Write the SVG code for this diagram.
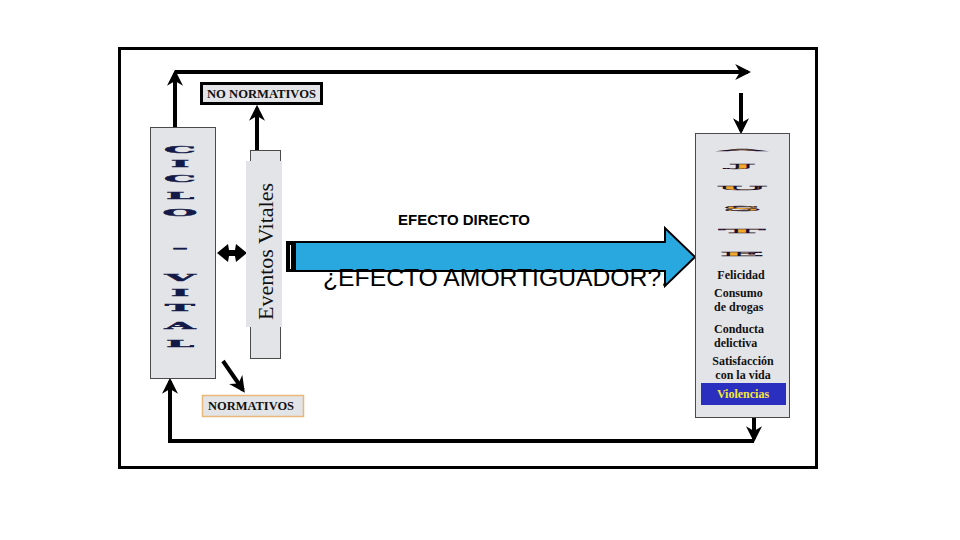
<svg xmlns="http://www.w3.org/2000/svg" width="960" height="540" viewBox="0 0 960 540">
<defs>
<style>
.box{fill:#e3e4e7;stroke:#4a4a4a;stroke-width:1}
.ln{fill:none;stroke:#000;stroke-width:4}
.tl{font-family:"Liberation Serif",serif;font-weight:bold;font-size:12px;fill:#111}
.cv{font-family:"DejaVu Serif",serif;font-weight:bold;font-size:20px;fill:#141a48;stroke:#141a48;stroke-width:0.8;text-anchor:middle}
.aj{font-family:"DejaVu Serif",serif;font-weight:bold;font-size:22px;fill:#f2a62a;stroke:#1b1030;stroke-width:1.2;text-anchor:middle}
</style>
<marker id="ah" viewBox="0 0 10 10" refX="8" refY="5" markerWidth="4" markerHeight="4" orient="auto" markerUnits="strokeWidth">
<path d="M0,0 L10,5 L0,10 L3,5 Z" fill="#000"/>
</marker>
</defs>
<rect width="960" height="540" fill="#fff"/>
<rect x="119.5" y="48.5" width="697" height="419" fill="none" stroke="#000" stroke-width="3"/>

<g id="connectors">
<path class="ln" d="M175,127 L175,73" marker-end="url(#ah)"/>
<path class="ln" d="M175,72 L748,72" marker-end="url(#ah)"/>
<path class="ln" d="M741,93 L741,131" marker-end="url(#ah)"/>
<path class="ln" d="M257,150 L257,108" marker-end="url(#ah)"/>
<path class="ln" d="M223,361 L243,390" marker-end="url(#ah)"/>
<path class="ln" d="M754,418 L754,439" marker-end="url(#ah)"/>
<path class="ln" d="M754,441 L170,441 L170,381" marker-end="url(#ah)"/>
<path d="M217,253 L228,244 L229,250 L235,250 L236,244 L247,253 L236,262 L235,256 L229,256 L228,262 Z" fill="#000"/>
</g>

<g id="ciclo-vital">
<rect class="box" x="150.5" y="127.5" width="65" height="251"/>
<g transform="translate(180,0)">
<text class="cv" transform="translate(0,153) scale(2.0,0.45)">C</text>
<text class="cv" transform="translate(0,167) scale(2.0,0.45)">I</text>
<text class="cv" transform="translate(0,182) scale(2.0,0.45)">C</text>
<text class="cv" transform="translate(0,199) scale(2.0,0.45)">L</text>
<text class="cv" transform="translate(0,216) scale(2.0,0.45)">O</text>
<text class="cv" transform="translate(0,251) scale(2.0,0.45)">-</text>
<text class="cv" transform="translate(0,281) scale(2.0,0.45)">V</text>
<text class="cv" transform="translate(0,296) scale(2.0,0.45)">I</text>
<text class="cv" transform="translate(0,311) scale(2.0,0.45)">T</text>
<text class="cv" transform="translate(0,329) scale(2.0,0.45)">A</text>
<text class="cv" transform="translate(0,347) scale(2.0,0.45)">L</text>
</g>
</g>

<g id="eventos-vitales">
<rect class="box" x="250.5" y="150.5" width="30" height="208"/>
<rect x="246" y="161" width="36" height="166" fill="#e3e4e7"/>
<text transform="translate(273,320) rotate(-90)" font-family="Liberation Serif,serif" font-size="22" fill="#111">Eventos Vitales</text>
</g>

<g id="no-normativos">
<rect x="201.5" y="83.5" width="120" height="20" fill="#e3e4e7" stroke="#000" stroke-width="3"/>
<text class="tl" x="207" y="98" textLength="109" lengthAdjust="spacingAndGlyphs">NO NORMATIVOS</text>
</g>

<g id="normativos">
<rect x="202.5" y="395.5" width="101" height="21" fill="#e3e4e7" stroke="#e8b87a" stroke-width="1.5"/>
<text class="tl" x="208" y="410" textLength="86" lengthAdjust="spacingAndGlyphs">NORMATIVOS</text>
</g>

<g id="efecto-arrow">
<path d="M287,242 L665,242 L665,228 L695,257 L665,286 L665,271 L287,271 Z" fill="#29a8e0" stroke="#000" stroke-width="2"/>
<rect x="286" y="242" width="10" height="30" fill="#000"/>
<line x1="290.5" y1="245" x2="290.5" y2="269" stroke="#fff" stroke-width="1"/>
<text x="464" y="225" text-anchor="middle" font-family="Liberation Sans,sans-serif" font-weight="bold" font-size="15" fill="#000">EFECTO DIRECTO</text>
<text x="323" y="286" font-family="Liberation Sans,sans-serif" font-size="23" fill="#000" textLength="345" lengthAdjust="spacingAndGlyphs">¿EFECTO AMORTIGUADOR?.</text>
</g>

<g id="ajuste">
<rect class="box" x="695.5" y="133.5" width="94" height="284"/>
<text class="aj" transform="translate(742,154) scale(3.2,0.35)">^</text>
<text class="aj" transform="translate(742,168) scale(2.6,0.25)">J</text>
<text class="aj" transform="translate(742,190) scale(2.6,0.25)">U</text>
<text class="aj" transform="translate(742,211) scale(2.4,0.3)">S</text>
<text class="aj" transform="translate(742,233) scale(2.8,0.25)">T</text>
<text class="aj" transform="translate(742,256) scale(2.6,0.25)">E</text>
<text class="tl" x="741" y="279" text-anchor="middle">Felicidad</text>
<text class="tl" x="714" y="297">Consumo</text>
<text class="tl" x="714" y="311">de drogas</text>
<text class="tl" x="714" y="333">Conducta</text>
<text class="tl" x="714" y="347">delictiva</text>
<text class="tl" x="743" y="365" text-anchor="middle">Satisfacción</text>
<text class="tl" x="743" y="379" text-anchor="middle">con la vida</text>
<rect x="701" y="383" width="85" height="22" fill="#2b2fc0"/>
<text class="tl" x="743" y="398" text-anchor="middle" style="fill:#f5e63a">Violencias</text>
</g>
</svg>
